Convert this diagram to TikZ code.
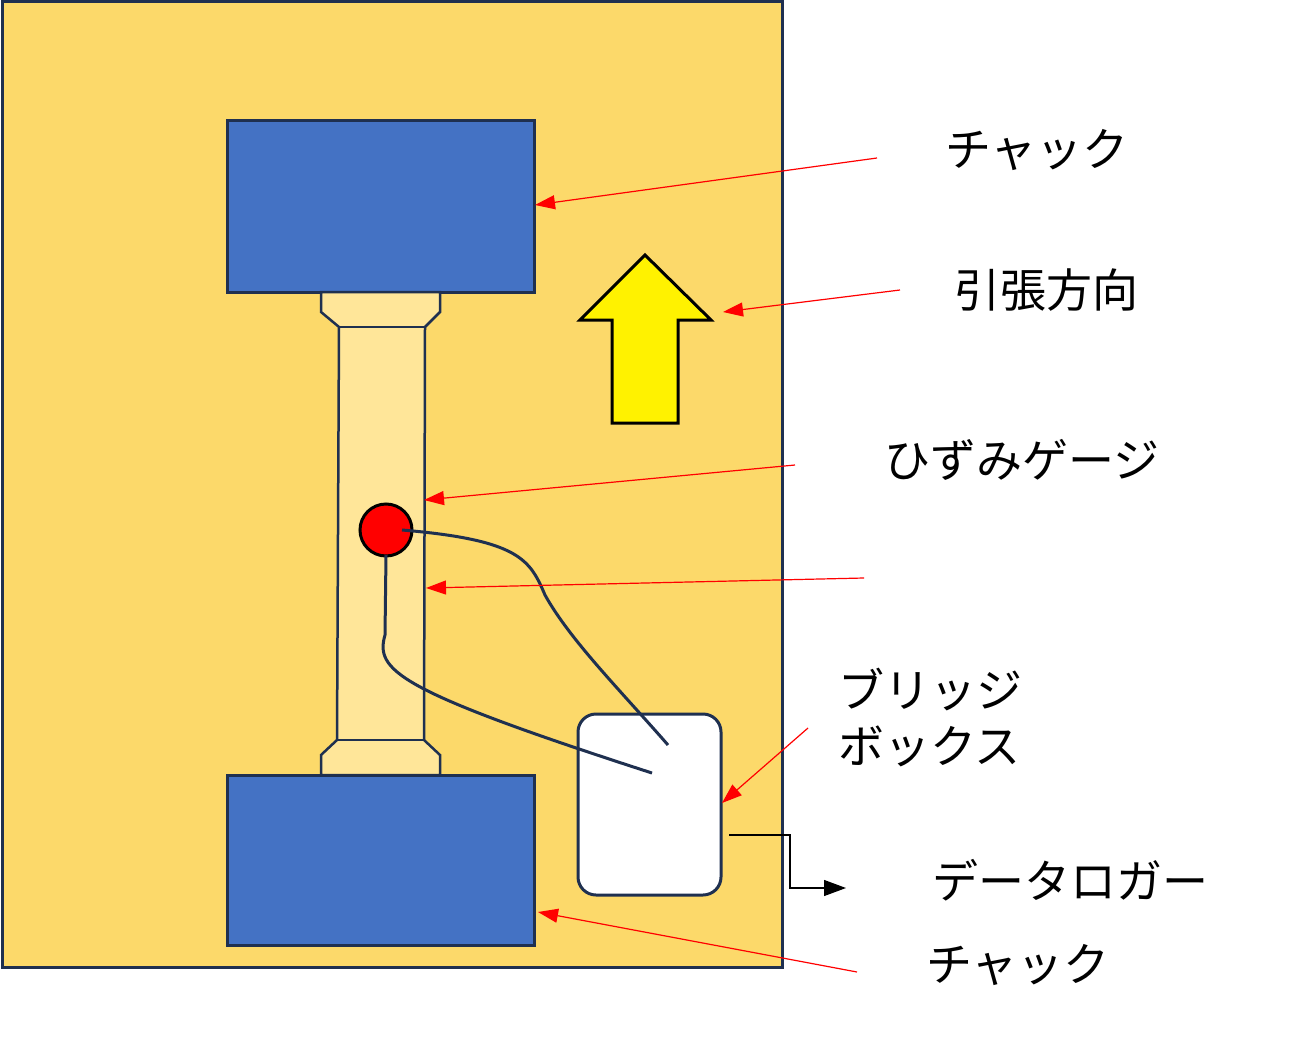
\documentclass[tikz,border=0pt]{standalone}
\usepackage{fontspec}
\setmainfont{Noto Sans CJK JP}
\usetikzlibrary{arrows.meta}
\definecolor{bgorange}{HTML}{FCD96A}
\definecolor{navy}{HTML}{1F3050}
\definecolor{chuckblue}{HTML}{4472C4}
\definecolor{specimen}{HTML}{FFE699}
\begin{document}
\begin{tikzpicture}[x=1pt,y=-1pt,
  lbl/.style={font=\fontsize{46}{56}\selectfont, inner sep=0pt},
  callout/.style={red, line width=1.2pt, -{Triangle[length=20pt,width=14pt]}},
  part/.style={draw=navy, line width=3pt}]
\useasboundingbox (0,0) rectangle (1305,1051);
% frame
\node[part, fill=bgorange, minimum width=780pt, minimum height=965pt, inner sep=0pt] (frame) at (392,484.5) {};
% chucks
\node[part, fill=chuckblue, minimum width=307pt, minimum height=171pt, inner sep=0pt] (chucktop) at (380.5,206.5) {};
\node[part, fill=chuckblue, minimum width=307pt, minimum height=170pt, inner sep=0pt] (chuckbot) at (380.5,860) {};
% specimen
\draw[part, line width=2.5pt, fill=specimen] (321,292) -- (440,292) -- (440,312) -- (425,327) -- (424,740)
  -- (440,755) -- (440,775) -- (321,775) -- (321,755) -- (337,740) -- (339,327) -- (321,312) -- cycle;
\draw[navy, line width=2.5pt] (339,327) -- (425,327) (337,740) -- (424,740);
% bridge box
\node[part, fill=white, rounded corners=18pt, minimum width=143pt, minimum height=181pt, inner sep=0pt] (bridge) at (649.5,804.5) {};
% strain gauge and wires
\node[circle, draw=black, line width=3pt, fill=red, minimum size=52pt, inner sep=0pt] (gauge) at (386,530) {};
\coordinate (w1) at (668,745);
\coordinate (w2) at (652,773);
\draw[navy, line width=3pt] (402,530) .. controls (520,540) and (530,560) .. (545,595) .. controls (570,640) and (620,690) .. (w1);
\draw[navy, line width=3pt] (386,555) -- (385,635) .. controls (375,670) and (395,690) .. (w2);
% tension arrow
\draw[line width=3pt, fill=yellow] (580,320) -- (645,255) -- (711,320) -- (678,320) -- (678,423) -- (612,423) -- (612,320) -- cycle;
% labels
\node[lbl] (lchuck1) at (1037,150) {チャック};
\node[lbl] (ldir) at (1046,290) {引張方向};
\node[lbl] (lgauge) at (1022,460) {ひずみゲージ};
\node[lbl, align=left, anchor=west] (lbox) at (838,718) {ブリッジ\\ボックス};
\node[lbl] (llogger) at (1070,880) {データロガー};
\node[lbl] (lchuck2) at (1018,965) {チャック};
% callouts
\coordinate (s1) at (877,158); \coordinate (t1) at (535,205);
\coordinate (s2) at (900,290); \coordinate (t2) at (723,312);
\coordinate (s3) at (795,465); \coordinate (t3) at (424,500);
\coordinate (s4) at (864,578); \coordinate (t4) at (426,588);
\coordinate (s5) at (808,728); \coordinate (t5) at (722,803);
\coordinate (s6) at (857,972); \coordinate (t6) at (538,912);
\foreach \i in {1,...,6}
  \draw[callout] (s\i) -- (t\i);
% logger output
\coordinate (out) at (729,835);
\coordinate (login) at (846,888);
\draw[black, line width=1.2pt, -{Triangle[length=22pt,width=16pt]}] (out) -- (790,835) -- (790,888) -- (login);
\end{tikzpicture}
\end{document}
